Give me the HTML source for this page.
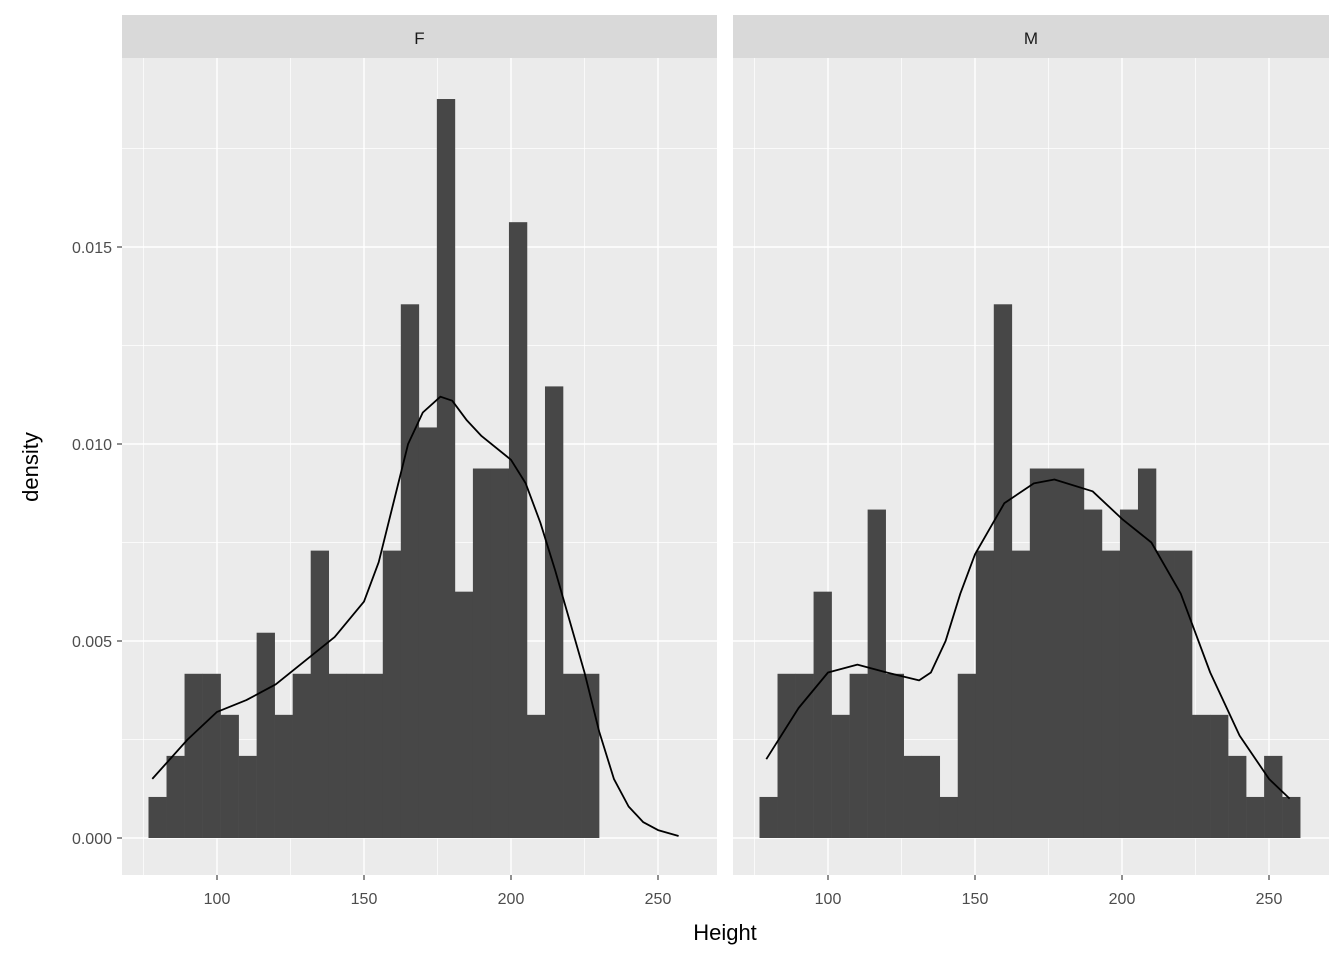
<!DOCTYPE html>
<html><head><meta charset="utf-8"><style>
body{margin:0;background:#fff;}
svg{display:block;font-family:"Liberation Sans",Arial,sans-serif;}
</style></head><body>
<svg id="chart" width="1344" height="960"></svg>
<script>
const facets=["F","M"];
const binStart=76.7;
const binWidth=6.13;
const unitDensity=0.001042;
const countsF=[1,2,4,4,3,2,5,3,4,7,4,4,4,7,13,10,18,6,9,9,15,3,11,4,4];
const countsM=[1,4,4,6,3,4,8,4,2,2,1,4,7,13,7,9,9,9,8,7,8,9,7,7,3,3,2,1,2,1];
const densXF=[78,90,100,110,120,130,140,150,155,160,165,170,176,180,185,190,200,205,210,215,220,225,230,235,240,245,250,257];
const densYF=[0.0015,0.0025,0.0032,0.0035,0.0039,0.0045,0.0051,0.0060,0.0070,0.0085,0.0100,0.0108,0.0112,0.0111,0.0106,0.0102,0.0096,0.0090,0.0080,0.0068,0.0055,0.0042,0.0027,0.0015,0.0008,0.0004,0.0002,0.00005];
const densXM=[79,90,100,110,120,131,135,140,145,150,160,170,177,190,200,210,220,230,240,250,257];
const densYM=[0.0020,0.0033,0.0042,0.0044,0.0042,0.0040,0.0042,0.0050,0.0062,0.0072,0.0085,0.0090,0.0091,0.0088,0.0081,0.0075,0.0062,0.0042,0.0026,0.0015,0.0010];
const yTicks=[0,0.005,0.010,0.015];
const yTickLabels=["0.000","0.005","0.010","0.015"];
const xTicks=[100,150,200,250];
const NS="http://www.w3.org/2000/svg";
const svg=document.getElementById('chart');
const panels=[{x0:122,x1:717},{x0:733,x1:1329}];
const pTop=58,pBot=875;
function yS(v){return 838-v/0.005*197;}
function xS(p,v){return panels[p].x0+95+(v-100)*2.94;}
function mk(tag,attrs,parent){const e=document.createElementNS(NS,tag);for(const k in attrs)e.setAttribute(k,attrs[k]);(parent||svg).appendChild(e);return e;}
const allCounts=[countsF,countsM];
const dx=[densXF,densXM],dy=[densYF,densYM];
for(let p=0;p<2;p++){
  const P=panels[p];
  const g=mk('g',{});
  
  
  const bg=mk('rect',{x:P.x0,y:pTop,width:P.x1-P.x0,height:pBot-pTop,fill:'#ebebeb'},g);
  
  
  const strip=mk('rect',{x:P.x0,y:15,width:P.x1-P.x0,height:43,fill:'#d9d9d9'},g);
  
  
  const st=mk('text',{x:(P.x0+P.x1)/2,y:44,'text-anchor':'middle','font-size':'17',fill:'#1a1a1a'},g);
  st.textContent=facets[p];
  
  
  // minor grid
  for(let v=0.0025;v<0.019;v+=0.005){mk('line',{x1:P.x0,x2:P.x1,y1:yS(v),y2:yS(v),stroke:'#fff','stroke-width':0.7},g);}
  for(const v of [75,125,175,225]){mk('line',{x1:xS(p,v),x2:xS(p,v),y1:pTop,y2:pBot,stroke:'#fff','stroke-width':0.7},g);}
  for(const v of yTicks){mk('line',{x1:P.x0,x2:P.x1,y1:yS(v),y2:yS(v),stroke:'#fff','stroke-width':1.4},g);}
  for(const v of xTicks){mk('line',{x1:xS(p,v),x2:xS(p,v),y1:pTop,y2:pBot,stroke:'#fff','stroke-width':1.4},g);}
  const counts=allCounts[p];
  counts.forEach((c,i)=>{
    const xa=xS(p,binStart+i*binWidth),xb=xS(p,binStart+(i+1)*binWidth);
    const r=mk('rect',{x:xa,y:yS(c*unitDensity),width:xb-xa+0.3,height:yS(0)-yS(c*unitDensity),fill:'#474747'},g);
    
    
  });
  let d='';
  dx[p].forEach((v,i)=>{d+=(i?'L':'M')+xS(p,v).toFixed(1)+','+yS(dy[p][i]).toFixed(1);});
  const path=mk('path',{d:d,fill:'none',stroke:'#000','stroke-width':1.8,'stroke-linejoin':'round'},g);
  
  
  xTicks.forEach(v=>{
    mk('line',{x1:xS(p,v),x2:xS(p,v),y1:pBot,y2:pBot+5,stroke:'#333','stroke-width':1.1},g);
    const t=mk('text',{x:xS(p,v),y:904,'text-anchor':'middle','font-size':'16',fill:'#4d4d4d'},g);
    t.textContent=v;
    
    
  });
}
yTicks.forEach((v,i)=>{
  mk('line',{x1:117,x2:122,y1:yS(v),y2:yS(v),stroke:'#333','stroke-width':1.1});
  const t=mk('text',{x:112,y:yS(v)+6,'text-anchor':'end','font-size':'16',fill:'#4d4d4d'});
  t.textContent=yTickLabels[i];
  
  
});
const xt=mk('text',{x:725,y:940,'text-anchor':'middle','font-size':'22',fill:'#000'});
xt.textContent='Height';


const yt=mk('text',{x:38,y:467,'text-anchor':'middle','font-size':'22',fill:'#000',transform:'rotate(-90 38 467)'});
yt.textContent='density';


</script>
</body></html>
